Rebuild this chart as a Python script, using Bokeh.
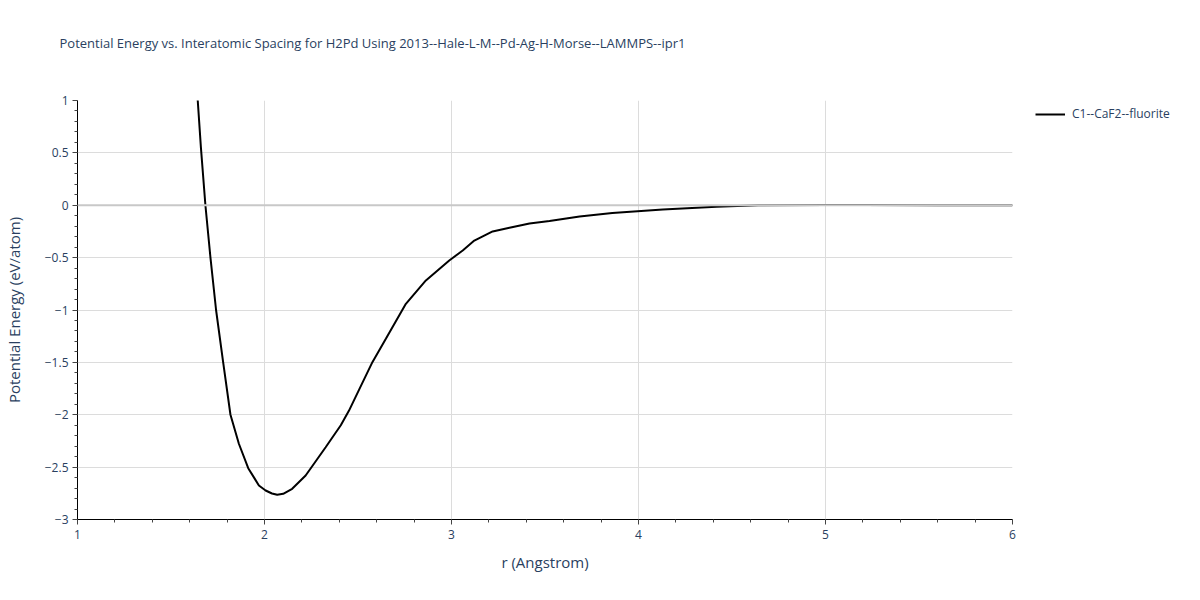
from bokeh.plotting import figure
from bokeh.models import FixedTicker, Legend, LegendItem, Range1d, Span, Title
from bokeh.embed import file_html
from bokeh.resources import INLINE

title_text = "Potential Energy vs. Interatomic Spacing for H2Pd Using 2013--Hale-L-M--Pd-Ag-H-Morse--LAMMPS--ipr1"
x_label = "r (Angstrom)"
y_label = "Potential Energy (eV/atom)"
series_name = "C1--CaF2--fluorite"

r_vals = [1.62, 1.643, 1.66, 1.684, 1.711, 1.741, 1.779, 1.818, 1.863, 1.913, 1.970,
          2.006, 2.04, 2.068, 2.10, 2.148, 2.22, 2.327, 2.408, 2.452, 2.506, 2.577,
          2.649, 2.756, 2.863, 2.988, 3.06, 3.122, 3.22, 3.31, 3.417, 3.524, 3.685,
          3.86, 4.13, 4.417, 4.64, 5.0, 5.2, 5.6, 6.0]
e_vals = [1.35, 1.0, 0.55, 0.0, -0.5, -1.0, -1.5, -2.0, -2.277, -2.51, -2.675,
          -2.723, -2.752, -2.764, -2.755, -2.707, -2.58, -2.31, -2.10, -1.96, -1.76, -1.498,
          -1.275, -0.941, -0.718, -0.527, -0.432, -0.337, -0.25, -0.215, -0.175, -0.15, -0.108,
          -0.075, -0.04, -0.015, 0.0, 0.002, 0.003, 0.001, 0.0]

x_ticks = [1, 2, 3, 4, 5, 6]
x_tick_labels = ["1", "2", "3", "4", "5", "6"]
y_ticks = [-3, -2.5, -2, -1.5, -1, -0.5, 0, 0.5, 1]
y_tick_labels = ["\u22123", "\u22122.5", "\u22122", "\u22121.5", "\u22121", "\u22120.5", "0", "0.5", "1"]

FONT = "Open Sans"
TXT = "#2a3f5f"
FW, FH = 935, 419

p = figure(frame_width=FW, frame_height=FH, output_backend="svg", toolbar_location=None,
           x_range=Range1d(1, 6), y_range=Range1d(-3, 1),
           min_border_left=71, min_border_right=175, min_border_top=100, min_border_bottom=65)
p.outline_line_color = None
p.background_fill_color = "white"
p.border_fill_color = "white"

spacer = Title(text=" ", text_font_size="1px", standoff=11)
p.add_layout(spacer, "above")
t = Title(text=title_text, text_font=FONT, text_font_size="13px", text_color=TXT,
          text_font_style="normal", standoff=66, offset=-18, vertical_align="top")
p.add_layout(t, "above")

xminor = [round(1 + 0.2 * i, 2) for i in range(26)]
yminor = [round(-3 + 0.1 * i, 2) for i in range(41)]
p.xaxis.ticker = FixedTicker(ticks=x_ticks, minor_ticks=xminor)
p.yaxis.ticker = FixedTicker(ticks=y_ticks, minor_ticks=yminor)
p.xaxis.major_label_overrides = {float(k): v for k, v in zip(x_ticks, x_tick_labels)}
p.yaxis.major_label_overrides = {float(k): v for k, v in zip(y_ticks, y_tick_labels)}

for ax in (p.xaxis, p.yaxis):
    ax.axis_line_color = "black"
    ax.axis_line_width = 1
    ax.major_tick_line_color = "#444444"
    ax.minor_tick_line_color = "#444444"
    ax.major_tick_out = 5
    ax.major_tick_in = 0
    ax.minor_tick_out = 3
    ax.minor_tick_in = 0
    ax.major_label_text_font = FONT
    ax.major_label_text_font_size = "12px"
    ax.major_label_text_color = TXT
    ax.axis_label_text_font = FONT
    ax.axis_label_text_font_size = "15px"
    ax.axis_label_text_color = TXT
    ax.axis_label_text_font_style = "normal"

p.xaxis.axis_label = x_label
p.yaxis.axis_label = y_label
p.xaxis.axis_label_standoff = 10
p.yaxis.axis_label_standoff = 18
p.xaxis.major_label_standoff = 5
p.yaxis.major_label_standoff = 4

p.xgrid.ticker = FixedTicker(ticks=x_ticks)
p.ygrid.ticker = FixedTicker(ticks=y_ticks)
p.xgrid.grid_line_color = "#dcdcdc"
p.ygrid.grid_line_color = "#dcdcdc"
p.xgrid.grid_line_width = 1
p.ygrid.grid_line_width = 1

zero = Span(location=0, dimension="width", line_color="#c8c8c8", line_width=2)
p.add_layout(zero)

ln = p.line(r_vals, e_vals, line_color="black", line_width=2)

legend = Legend(items=[LegendItem(label=series_name, renderers=[ln])],
                location=(23, FH - 22), border_line_color=None, background_fill_alpha=0,
                label_text_font=FONT, label_text_font_size="12px", label_text_color=TXT,
                glyph_width=30, glyph_height=16, margin=0, padding=4, spacing=0,
                label_standoff=7)
p.add_layout(legend, "right")

open("out.html", "w").write(file_html(p, INLINE))
